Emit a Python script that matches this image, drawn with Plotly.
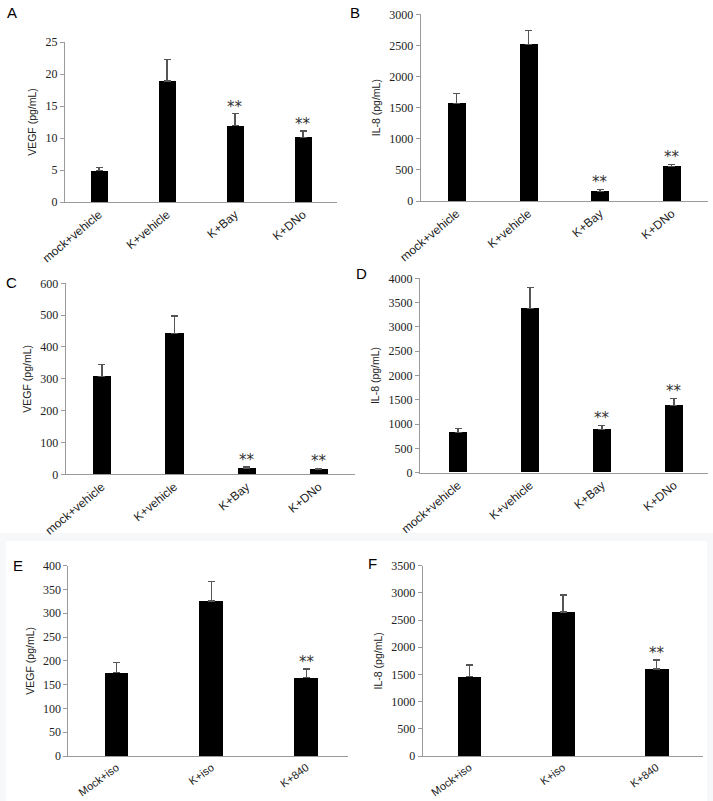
import plotly.graph_objects as go

W, H = 713, 801

cats_abcd = ["mock+vehicle", "K+vehicle", "K+Bay", "K+DNo"]
cats_ef = ["Mock+iso", "K+iso", "K+840"]

A_vals = [4.9, 18.9, 11.9, 10.1]
A_err = [0.5, 3.4, 1.9, 1.0]
A_star = [False, False, True, True]

B_vals = [1570, 2510, 150, 552]
B_err = [155, 225, 37, 37]
B_star = [False, False, True, True]

C_vals = [307, 443, 19, 16]
C_err = [38, 54, 4, 3]
C_star = [False, False, True, True]

D_vals = [830, 3380, 885, 1386]
D_err = [82, 426, 89, 144]
D_star = [False, False, True, True]

E_vals = [176, 326, 165]
E_err = [21, 41, 18]
E_star = [False, False, True]

F_vals = [1459, 2648, 1600]
F_err = [214, 313, 165]
F_star = [False, False, True]

y_titles = ["VEGF (pg/mL)", "IL-8 (pg/mL)", "VEGF (pg/mL)", "IL-8 (pg/mL)", "VEGF (pg/mL)", "IL-8 (pg/mL)"]
y_max = [25, 3000, 600, 4000, 400, 3500]
y_dtick = [5, 500, 100, 500, 50, 500]
letters = ["A", "B", "C", "D", "E", "F"]

# pixel layout: (x_left, x_right, y_top, y_bottom)
boxes = [
    (65, 337, 42, 202),
    (420.7, 707.7, 14.3, 201),
    (65.7, 355, 283.3, 474.3),
    (420, 707.7, 278.3, 472.7),
    (68.3, 348.3, 565.7, 756),
    (422.7, 703.3, 565.7, 756),
]
x_ranges = [
    [-0.5, 3.5], [-0.5, 3.5], [-0.5, 3.5], [-0.53, 3.47],
    [-0.51, 2.44], [-0.5, 2.5],
]
x_tick_size = [12, 12, 12, 12, 11, 11]
x_tick_angle = [-40, -40, -40, -40, -36, -36]
letter_pos = [(11.5, 12), (355, 12), (11, 282), (361, 274), (18, 565), (372, 563)]

panels = [
    (cats_abcd, A_vals, A_err, A_star),
    (cats_abcd, B_vals, B_err, B_star),
    (cats_abcd, C_vals, C_err, C_star),
    (cats_abcd, D_vals, D_err, D_star),
    (cats_ef, E_vals, E_err, E_star),
    (cats_ef, F_vals, F_err, F_star),
]

SANS = "Liberation Sans, Arial, sans-serif"
SERIF = "Liberation Serif, Times New Roman, serif"
fig = go.Figure()
annotations = []
layout = {}

for i, (cats, vals, errs, stars) in enumerate(panels):
    n = i + 1
    xa = "x" if n == 1 else f"x{n}"
    ya = "y" if n == 1 else f"y{n}"
    fig.add_trace(go.Bar(
        x=list(range(len(cats))), y=vals, width=0.25,
        marker=dict(color="black", line=dict(width=0)),
        error_y=dict(type="data", array=errs, arrayminus=[0] * len(errs), symmetric=False,
                     color="#555555", thickness=1.3, width=3.5),
        xaxis=xa, yaxis=ya, showlegend=False, hoverinfo="skip",
    ))
    x0, x1, yt, yb = boxes[i]
    ncat = len(cats)
    layout[f"xaxis{'' if n == 1 else n}"] = dict(
        domain=[x0 / W, x1 / W], anchor=ya,
        range=x_ranges[i], tickmode="array",
        tickvals=list(range(ncat)), ticktext=cats, tickangle=x_tick_angle[i],
        showline=True, linecolor="#9a9a9a", linewidth=1, ticks="",
        showgrid=False, zeroline=False, automargin=False,
        tickfont=dict(family=SANS, size=x_tick_size[i], color="#222222"),
    )
    layout[f"yaxis{'' if n == 1 else n}"] = dict(
        domain=[1 - yb / H, 1 - yt / H], anchor=xa,
        range=[0, y_max[i]], dtick=y_dtick[i], tick0=0,
        showline=True, linecolor="#9a9a9a", linewidth=1,
        ticks="outside", ticklen=4, tickcolor="#9a9a9a",
        showgrid=False, zeroline=False, automargin=False,
        tickfont=dict(family=SERIF, size=12, color="#222222"),
        title=dict(text=y_titles[i], font=dict(family=SANS, size=10.5, color="#222222"), standoff=6),
    )
    for k, s in enumerate(stars):
        if s:
            annotations.append(dict(
                x=k, y=vals[k] + errs[k], xref=xa, yref=ya, text="**",
                showarrow=False, yanchor="bottom", yshift=-4,
                font=dict(family="DejaVu Sans, sans-serif", size=15, color="#333333"),
            ))
    lx, ly = letter_pos[i]
    annotations.append(dict(
        x=lx / W, y=1 - ly / H, xref="paper", yref="paper", text=letters[i],
        showarrow=False, xanchor="center", yanchor="middle",
        font=dict(family=SANS, size=15, color="black"),
    ))

shapes = [
    dict(type="rect", xref="paper", yref="paper", x0=0, x1=1, y0=0, y1=1 - 533 / H,
         fillcolor="#f7f8fa", line=dict(width=0), layer="below"),
    dict(type="rect", xref="paper", yref="paper", x0=6 / W, x1=707 / W, y0=0, y1=1 - 541 / H,
         fillcolor="white", line=dict(width=0), layer="below"),
]

fig.update_layout(
    width=W, height=H, margin=dict(l=0, r=0, t=0, b=0),
    paper_bgcolor="white", plot_bgcolor="rgba(0,0,0,0)",
    annotations=annotations, shapes=shapes, bargap=0, **layout,
)

fig.write_html("out.html", config={"displayModeBar": False},
               post_script="document.body.style.margin='0px';document.body.style.overflow='hidden';")
